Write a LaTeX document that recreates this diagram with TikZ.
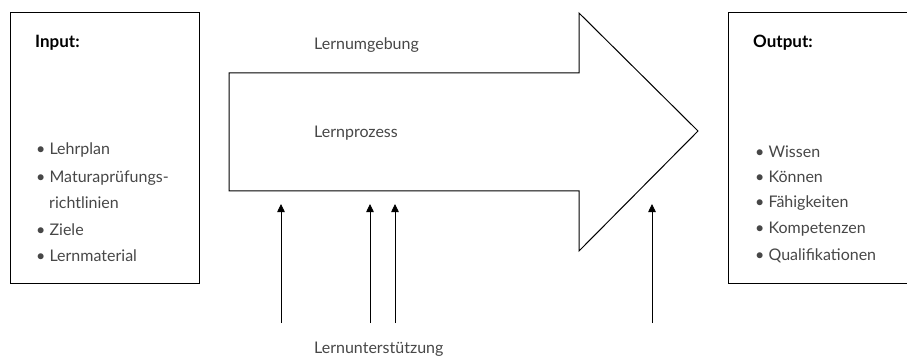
\documentclass[tikz,border=0pt]{standalone}
\usepackage{fontspec}
\setmainfont{Lato}
\usetikzlibrary{arrows.meta}
\begin{document}
\begin{tikzpicture}[x=1pt,y=-1pt,
  box/.style={draw=black, line width=1pt},
  lbl/.style={anchor=west, inner sep=0pt, text=black!72, font=\fontsize{16}{19}\selectfont},
  head/.style={anchor=west, inner sep=0pt, font=\fontsize{17}{20}\selectfont\bfseries},
  sup/.style={-{Triangle[length=8pt,width=7.5pt]}, line width=0.8pt}]
\useasboundingbox (0,0) rectangle (907,358);
\clip (0,0) rectangle (907,358);
% input box
\draw[box] (10,13) rectangle (199,283);
\node[head] (inh) at (35,43) {Input:};
\node[lbl] (i1) at (36,150) {• Lehrplan};
\node[lbl] (i2) at (36,178) {• Maturaprüfungs-};
\node[lbl] (i3) at (49,203) {richtlinien};
\node[lbl] (i4) at (36,230) {• Ziele};
\node[lbl] (i5) at (36,256) {• Lernmaterial};
% output box
\draw[box] (912,13) -- (728,13) -- (728,283) -- (912,283);
\node[head] (outh) at (753,43) {Output:};
\node[lbl] (o1) at (755,152) {• Wissen};
\node[lbl] (o2) at (755,177) {• Können};
\node[lbl] (o3) at (755,203) {• Fähigkeiten};
\node[lbl] (o4) at (755,229) {• Kompetenzen};
\node[lbl] (o5) at (755,256) {• Qualifikationen};
% big arrow
\draw[line width=1pt, line join=miter] (229,73) -- (579,73) -- (579,13) -- (698,131) -- (579,251) -- (579,191) -- (229,191) -- cycle;
\node[lbl] (umg) at (314,45) {Lernumgebung};
\node[lbl] (proz) at (314,133) {Lernprozess};
\node[lbl] (unt) at (314,349) {Lernunterstützung};
% support arrows
\coordinate (a1s) at (281,323); \coordinate (a1e) at (281,204);
\coordinate (a2s) at (370,323); \coordinate (a2e) at (370,204);
\coordinate (a3s) at (395,323); \coordinate (a3e) at (395,204);
\coordinate (a4s) at (652,323); \coordinate (a4e) at (652,204);
\draw[sup] (a1s) -- (a1e);
\draw[sup] (a2s) -- (a2e);
\draw[sup] (a3s) -- (a3e);
\draw[sup] (a4s) -- (a4e);
\end{tikzpicture}
\end{document}
